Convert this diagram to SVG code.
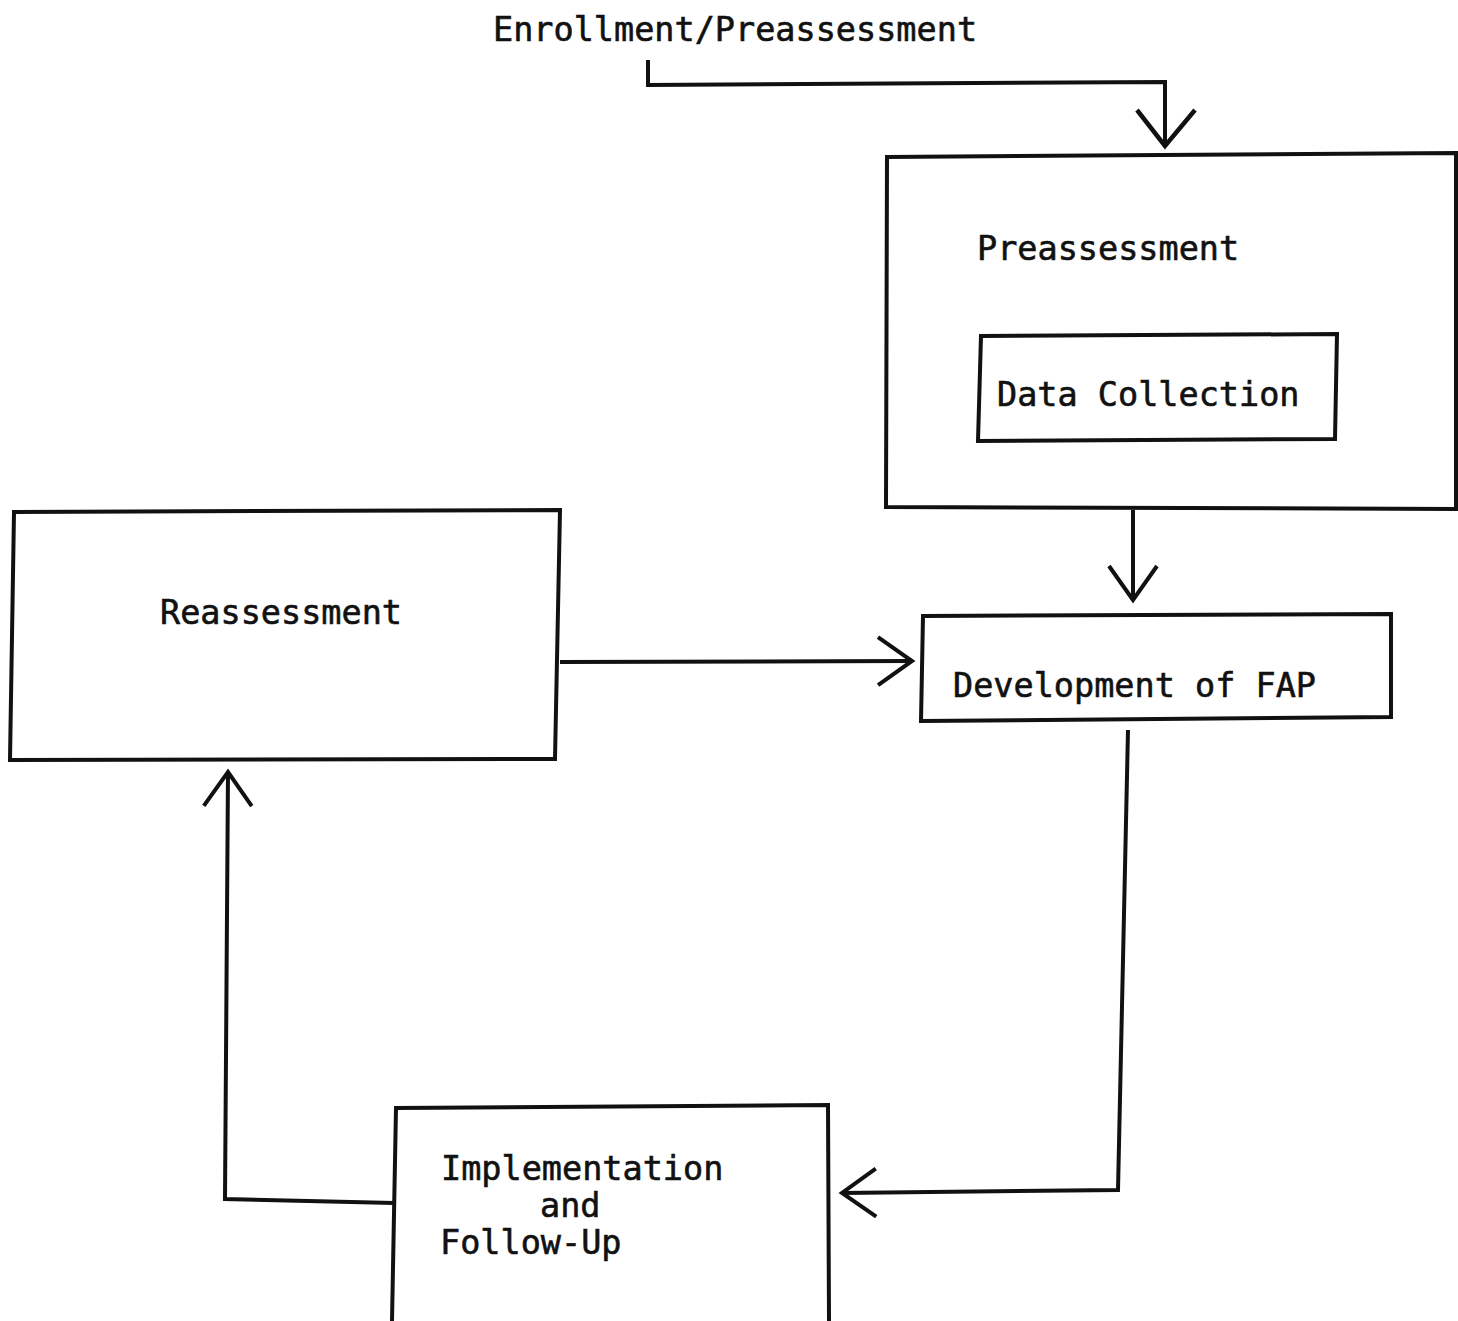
<svg xmlns="http://www.w3.org/2000/svg" width="1458" height="1321" viewBox="0 0 1458 1321">
<defs>
<style>
.box{fill:none;stroke:#111;stroke-width:4}
.ln{fill:none;stroke:#111;stroke-width:4;stroke-linejoin:miter}
.t{font-family:"DejaVu Sans Mono","Liberation Mono",monospace;font-size:33.5px;fill:#111;stroke:#111;stroke-width:0.6}
</style>
<marker id="v" viewBox="-40 -30 44 60" markerWidth="44" markerHeight="60" refX="0" refY="0" markerUnits="userSpaceOnUse" orient="auto">
<path d="M-34,-24 L0,0 L-34,24" fill="none" stroke="#111" stroke-width="4"/>
</marker>
<marker id="vl" viewBox="-42 -34 46 68" markerWidth="46" markerHeight="68" refX="0" refY="0" markerUnits="userSpaceOnUse" orient="auto">
<path d="M-36,-30 L0,0 L-36,28" fill="none" stroke="#111" stroke-width="4.5"/>
</marker>
</defs>
<rect width="1458" height="1321" fill="#fff"/>
<g id="enrollment">
<text class="t" x="493" y="41">Enrollment/Preassessment</text>
</g>
<g id="preassessment">
<polygon class="box" points="887,157 1456,153 1456,509 886,507"/>
<text class="t" x="977" y="260">Preassessment</text>
</g>
<g id="data-collection">
<polygon class="box" points="981,336 1337,334 1335,439 978,441"/>
<text class="t" x="997" y="406">Data Collection</text>
</g>
<g id="reassessment">
<polygon class="box" points="14,512 560,510 555,759 10,760"/>
<text class="t" x="160" y="624">Reassessment</text>
</g>
<g id="development">
<polygon class="box" points="923,616 1391,614 1391,717 921,721"/>
<text class="t" x="953" y="697">Development of FAP</text>
</g>
<g id="implementation">
<polyline class="box" points="392,1321 396,1108 828,1105 829,1321"/>
<text class="t" x="441" y="1180">Implementation</text>
<text class="t" x="540" y="1217">and</text>
<text class="t" x="440" y="1254">Follow-Up</text>
</g>
<g id="connectors">
<polyline class="ln" points="648,60 648,85 1165,82 1165,146" marker-end="url(#vl)"/>
<polyline class="ln" points="1133,510 1133,600" marker-end="url(#v)"/>
<polyline class="ln" points="560,662 912,661" marker-end="url(#v)"/>
<polyline class="ln" points="1128,730 1118,1190 842,1193" marker-end="url(#v)"/>
<polyline class="ln" points="394,1203 225,1199 228,772" marker-end="url(#v)"/>
</g>
</svg>
